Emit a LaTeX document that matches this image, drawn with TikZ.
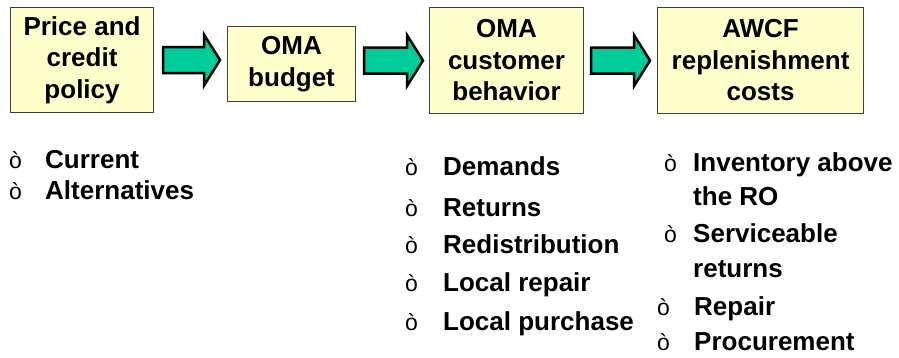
\documentclass[tikz,border=0pt]{standalone}
\usepackage{fontspec}
\setmainfont{Liberation Sans}
\usetikzlibrary{calc}
\definecolor{boxfill}{HTML}{FFFFCC}
\definecolor{arrowfill}{HTML}{00CC99}
\begin{document}
\begin{tikzpicture}[x=1pt,y=-1pt,
  box/.style={draw=black!75, line width=1.1pt, fill=boxfill, align=center,
    font=\bfseries\fontsize{26}{31.5}\selectfont, inner sep=0pt, anchor=north west},
  blockarrow/.style={draw=black, line width=2.5pt, fill=arrowfill, line join=miter},
  item/.style={anchor=base west, inner sep=0pt, font=\bfseries\fontsize{26}{31}\selectfont},
  bul/.style={anchor=base west, inner sep=0pt, font=\fontsize{23}{27}\selectfont}]
\useasboundingbox (0,0) rectangle (899,358);

% boxes
\node[box, minimum width=143pt, minimum height=105pt] (b1) at (10,7) {Price and\\credit\\policy};
\node[box, minimum width=128pt, minimum height=75pt] (b2) at (227,26) {OMA\\budget};
\node[box, minimum width=154pt, minimum height=106pt] (b3) at (429,7) {OMA\\customer\\behavior};
\node[box, minimum width=206pt, minimum height=106pt] (b4) at (657,7) {AWCF\\replenishment\\costs};

% arrow anchor coordinates
\coordinate (a1s) at ($(b1.east)+(9,0)$);
\coordinate (a1e) at ($(b2.west |- b1.east)+(-7,0)$);
\coordinate (a2s) at ($(b2.east |- b3.west)+(8,0)$);
\coordinate (a2e) at ($(b3.west)+(-6,0)$);
\coordinate (a3s) at ($(b3.east)+(7,0)$);
\coordinate (a3e) at ($(b4.west)+(-7,0)$);

\foreach \s/\e in {a1s/a1e, a2s/a2e, a3s/a3e}{
  \draw[blockarrow] let \p1=(\s), \p2=(\e) in
    (\x1,\y1+13pt) -- (\x2-16pt,\y1+13pt) -- (\x2-16pt,\y1+25.5pt) -- (\x2,\y1)
    -- (\x2-16pt,\y1-25.5pt) -- (\x2-16pt,\y1-13pt) -- (\x1,\y1-13pt) -- cycle;
}

% column 1
\node[bul] (c1b1) at (9,169) {ò};
\node[item] (c1t1) at (45,169) {Current};
\node[bul] (c1b2) at (9,200) {ò};
\node[item] (c1t2) at (45,200) {Alternatives};

% column 2
\node[bul] (c2b1) at (405,176) {ò};
\node[item] (c2t1) at (443,176) {Demands};
\node[bul] (c2b2) at (405,216) {ò};
\node[item] (c2t2) at (443,216) {Returns};
\node[bul] (c2b3) at (405,253) {ò};
\node[item] (c2t3) at (443,253) {Redistribution};
\node[bul] (c2b4) at (405,291) {ò};
\node[item] (c2t4) at (443,291) {Local repair};
\node[bul] (c2b5) at (405,330) {ò};
\node[item] (c2t5) at (443,330) {Local purchase};

% column 3
\node[bul] (c3b1) at (664,172) {ò};
\node[item] (c3t1) at (693,172) {Inventory above};
\node[item] (c3t1b) at (693,206) {the RO};
\node[bul] (c3b2) at (664,242) {ò};
\node[item] (c3t2) at (693,242) {Serviceable};
\node[item] (c3t2b) at (693,277) {returns};
\node[bul] (c3b3) at (657,315) {ò};
\node[item] (c3t3) at (694,315) {Repair};
\node[bul] (c3b4) at (657,350) {ò};
\node[item] (c3t4) at (694,350) {Procurement};
\end{tikzpicture}
\end{document}
